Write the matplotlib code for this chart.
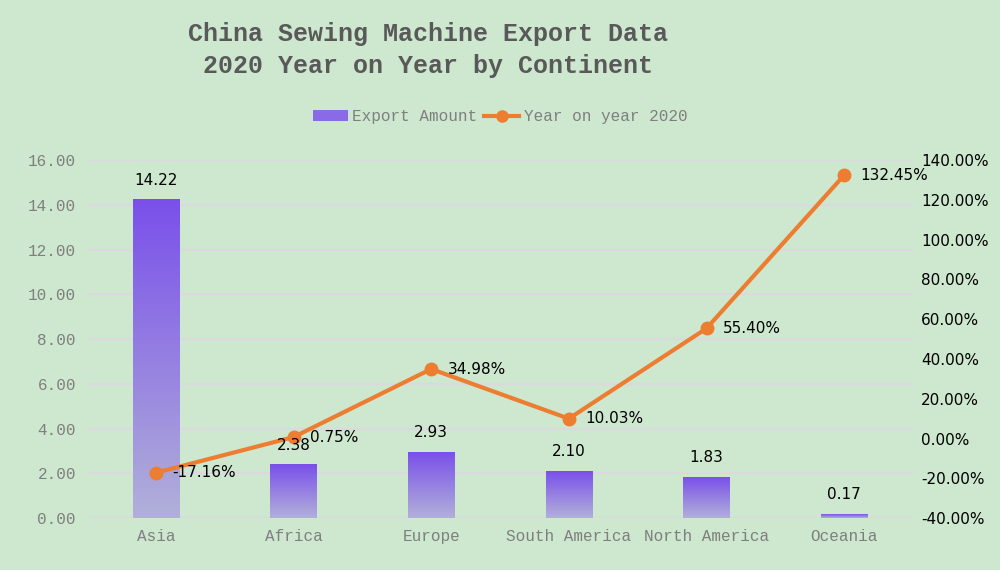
import matplotlib.pyplot as plt
import numpy as np
from matplotlib.colors import LinearSegmentedColormap
from matplotlib.patches import Patch
from matplotlib.lines import Line2D

# ---- data ----
continents = ['Asia', 'Africa', 'Europe', 'South America', 'North America', 'Oceania']
export_amount = [14.22, 2.38, 2.93, 2.10, 1.83, 0.17]
yoy_2020 = [-17.16, 0.75, 34.98, 10.03, 55.40, 132.45]

BG = '#cde8cf'
MONO = 'Liberation Mono'
GRAY = '#7f7f7f'
ORANGE = '#ed7d31'
bar_cmap = LinearSegmentedColormap.from_list('bar', ['#b1b0d9', '#7a50ea'])

fig = plt.figure(figsize=(10, 5.7), dpi=100, facecolor=BG)
ax = fig.add_axes([0.087, 0.091, 0.826, 0.628])
ax.set_facecolor('none')

x = np.arange(len(continents))
w = 0.335
grad = np.linspace(0, 1, 256).reshape(-1, 1)
for xi, v in zip(x, export_amount):
    ax.imshow(grad, extent=[xi - w/2, xi + w/2, 0, v], origin='lower',
              aspect='auto', cmap=bar_cmap, zorder=2)
ax.set_xlim(-0.5, len(continents) - 0.5)
ax.set_ylim(0, 16)

ax.set_yticks(np.arange(0, 17, 2))
ax.set_yticklabels([f'{t:.2f}' for t in np.arange(0, 17, 2)],
                   family=MONO, fontsize=11.5, color=GRAY)
ax.set_xticks(x)
ax.set_xticklabels(continents, family=MONO, fontsize=11.5, color=GRAY)
ax.tick_params(length=0, pad=8)
ax.grid(axis='y', color='#dcd8e0', linewidth=1.5, zorder=0)
ax.set_axisbelow(True)
for s in ax.spines.values():
    s.set_visible(False)

ax2 = ax.twinx()
ax2.set_facecolor('none')
ax2.plot(x, yoy_2020, color=ORANGE, linewidth=3, marker='o', markersize=9, zorder=4)
# bar value labels sit above the line
for xi, v in zip(x, export_amount):
    ax2.text(xi, v + 0.55, f'{v:.2f}', ha='center', va='bottom', transform=ax.transData,
             fontsize=11, color='black', family='DejaVu Sans', zorder=6)
for xi, v in zip(x, yoy_2020):
    ax2.text(xi + 0.12, v, f'{v:.2f}%', ha='left', va='center',
             fontsize=11, color='black', family='DejaVu Sans', zorder=6)
ax2.set_ylim(-40, 140)
ax2.set_yticks(np.arange(-40, 141, 20))
ax2.set_yticklabels([f'{t:.2f}%' for t in np.arange(-40, 141, 20)],
                    family='DejaVu Sans', fontsize=11, color='black')
ax2.tick_params(length=0, pad=6)
for s in ax2.spines.values():
    s.set_visible(False)

fig.text(0.428, 0.912, 'China Sewing Machine Export Data\n2020 Year on Year by Continent',
         ha='center', va='center', family=MONO, fontsize=18, fontweight='bold',
         color='#595959', linespacing=1.45)

handles = [Patch(facecolor='#8a6ae6', edgecolor='none'),
           Line2D([0], [0], color=ORANGE, linewidth=3, marker='o', markersize=8)]
leg = fig.legend(handles, ['Export Amount', 'Year on year 2020'], loc='center',
                 bbox_to_anchor=(0.5, 0.795), ncol=2, frameon=False,
                 prop={'family': MONO, 'size': 11.5}, handlelength=2.2,
                 columnspacing=0.4, handletextpad=0.3)
for t in leg.get_texts():
    t.set_color(GRAY)

fig.savefig('out.png', dpi=100, facecolor=BG)
